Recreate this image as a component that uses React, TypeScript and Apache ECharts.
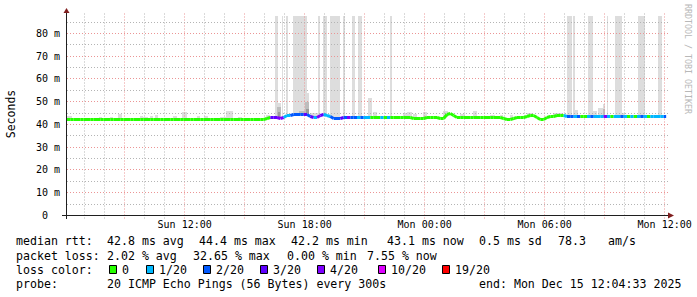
import React, { useEffect, useRef } from 'react';
import * as echarts from 'echarts';

// ---- time axis (minutes since Sun 00:00) ----
const START_MIN = 367; // Sun 06:07 (left edge of the graph)
const AXIS_END_MIN = 2167; // Mon 12:07 (right edge of the graph)
const END_MIN = 2164.5; // Mon 12:04:33 (last data)
const STEP_MIN = 10;
const Y_MAX = 87.91; // ms at the top of the canvas

const xTickValues = [720, 1080, 1440, 1800, 2160];
const xTickLabels = ['Sun 12:00', 'Sun 18:00', 'Mon 00:00', 'Mon 06:00', 'Mon 12:00'];
const yMajorValues = [10, 20, 30, 40, 50, 60, 70, 80];
const yMinorValues = [5, 15, 25, 35, 45, 55, 65, 75, 85];

// ---- median rtt (ms), one value every 10 min from Sun 06:07 ----
const rttMs = [
  42.2, 42.2, 42.2, 42.2, 42.2, 42.2, 42.2, 42.2, 42.2, 42.2,
  42.2, 42.2, 42.2, 42.2, 42.2, 42.2, 42.2, 42.2, 42.2, 42.2,
  42.2, 42.2, 42.2, 42.2, 42.2, 42.2, 42.2, 42.2, 42.2, 42.2,
  42.2, 42.2, 42.2, 42.2, 42.2, 42.2, 42.2, 42.2, 42.2, 42.2,
  42.2, 42.2, 42.2, 42.2, 42.2, 42.2, 42.2, 42.2, 42.2, 42.2,
  42.2, 42.2, 42.2, 42.2, 42.2, 42.2, 42.2, 42.2, 42.2, 42.2,
  42.6, 43.0, 43.2, 43.2, 42.5, 43.0, 43.8, 44.0, 44.2, 44.2,
  44.2, 44.2, 44.4, 43.6, 43.0, 43.0, 43.8, 44.4, 44.0, 43.5,
  42.7, 42.6, 42.6, 43.2, 43.2, 43.2, 43.2, 43.2, 43.2, 43.2,
  43.2, 43.2, 43.1, 43.0, 42.9, 42.9, 42.9, 42.9, 42.9, 42.9,
  42.9, 42.9, 42.9, 42.9, 42.6, 42.6, 42.6, 42.6, 42.9, 42.9,
  42.9, 42.9, 42.6, 42.6, 44.6, 44.8, 43.8, 42.9, 42.9, 42.9,
  42.9, 42.9, 42.9, 42.9, 42.9, 42.9, 42.9, 42.9, 42.9, 42.9,
  42.9, 42.7, 42.2, 42.2, 42.7, 42.9, 42.9, 42.9, 43.5, 43.9,
  43.9, 43.0, 42.0, 42.0, 43.0, 43.7, 43.7, 43.9, 43.9, 43.9,
  43.5, 43.5, 43.5, 43.5, 43.5, 43.5, 43.5, 43.5, 43.5, 43.5,
  43.5, 43.5, 43.5, 43.5, 43.5, 43.5, 43.4, 43.4, 43.4, 43.4,
  43.4, 43.4, 43.4, 43.4, 43.4, 43.4, 43.4, 43.4, 43.4, 43.4,
  43.4,
];

// ---- packet loss (pings lost out of 20) for the same steps ----
const lossOf20 = [
  0, 0, 0, 0, 0, 0, 0, 0, 0, 0,
  0, 0, 0, 0, 0, 0, 0, 0, 0, 0,
  0, 0, 0, 0, 0, 0, 0, 0, 0, 0,
  0, 0, 0, 0, 0, 0, 0, 0, 0, 0,
  0, 0, 0, 0, 0, 0, 0, 0, 0, 0,
  0, 0, 0, 0, 0, 0, 0, 0, 0, 0,
  0, 0, 3, 3, 4, 4, 1, 1, 2, 2,
  2, 2, 3, 2, 3, 1, 4, 3, 1, 1,
  2, 2, 2, 3, 2, 4, 2, 2, 1, 2,
  1, 1, 0, 0, 0, 1, 0, 1, 0, 0,
  0, 0, 0, 0, 0, 0, 0, 0, 0, 0,
  0, 0, 0, 0, 0, 0, 0, 0, 0, 0,
  0, 0, 0, 0, 0, 0, 0, 0, 0, 0,
  0, 0, 0, 0, 0, 0, 0, 0, 0, 0,
  0, 0, 0, 0, 0, 0, 0, 0, 0, 0,
  1, 2, 2, 1, 2, 0, 0, 1, 2, 1,
  1, 1, 4, 1, 0, 1, 1, 2, 1, 0,
  1, 0, 1, 2, 1, 0, 1, 1, 1, 1,
  2,
];

const lossLevels = [0, 1, 2, 3, 4, 10, 19];
const lossLabels = ['0', '1/20', '2/20', '3/20', '4/20', '10/20', '19/20'];
const lossColors = ['#26ff00', '#00b8ff', '#0059ff', '#5e00ff', '#7e00ff', '#dd00ff', '#ff0000'];

// ---- smoke (ping spread) : from / to (minutes), low / high (ms), shade ----
const smokeFrom = [
  991, 1012, 1025, 1045, 1120, 1136, 1156, 1195, 1222, 1240, 1336, 1866, 1885, 1930, 1987, 2011, 2080, 2140,
  367, 463, 495, 520, 585, 595, 616, 630, 685, 712, 757, 778, 825, 844, 879, 964, 997, 1082, 1096,
  1270, 1285, 1375, 1387, 1405, 1435, 1495, 1546, 1585, 1636, 1666, 1696, 1747, 1825, 1885, 1942, 1960, 1975, 2032,
  997, 1063, 1082, 1975,
  1000, 1085,
];
const smokeTo = [
  1000, 1016, 1030, 1086, 1127, 1147, 1186, 1202, 1232, 1252, 1342, 1882, 1891, 1945, 1990, 2032, 2101, 2152,
  382, 472, 505, 532, 595, 610, 625, 640, 697, 727, 766, 789, 844, 865, 892, 976, 1009, 1093, 1120,
  1282, 1297, 1387, 1402, 1417, 1447, 1510, 1561, 1597, 1651, 1675, 1705, 1762, 1855, 1900, 1957, 1975, 1981, 2041,
  1009, 1082, 1093, 1981,
  1006, 1093,
];
const smokeLow = [
  43.2, 43.0, 43.8, 44.2, 43.6, 44.0, 42.7, 43.2, 43.2, 43.2, 42.9, 43.5, 43.5, 43.4, 43.4, 43.4, 43.4, 43.4,
  42.2, 42.2, 42.2, 42.2, 42.2, 42.2, 42.2, 42.2, 42.2, 42.2, 42.2, 42.2, 42.2, 42.2, 42.2, 42.6, 42.8, 44.0, 43.0,
  43.2, 43.0, 42.9, 42.9, 42.6, 42.9, 43.5, 42.9, 42.9, 42.9, 42.9, 42.2, 43.9, 43.9, 43.5, 43.4, 43.4, 43.4, 43.4,
  42.8, 44.2, 44.0, 43.4,
  43.0, 44.0,
];
const smokeHigh = [
  100, 100, 100, 100, 100, 100, 100, 100, 100, 100, 100, 100, 100, 100, 100, 100, 100, 100,
  43.7, 43.3, 43.3, 44.6, 43.7, 43.3, 43.7, 44.2, 43.7, 45.5, 43.7, 43.7, 43.3, 46.0, 43.3, 44.2, 49.3, 53.7, 44.9,
  51.8, 45.6, 45.0, 45.4, 44.5, 45.4, 46.0, 44.5, 45.9, 44.2, 44.2, 44.2, 44.9, 44.9, 46.4, 45.9, 47.1, 49.0, 45.2,
  47.8, 46.0, 50.0, 47.0,
  45.5, 47.0,
];
const smokeShade = [
  0, 0, 0, 0, 0, 0, 0, 0, 0, 0, 0, 0, 0, 0, 0, 0, 0, 0,
  0, 0, 0, 0, 0, 0, 0, 0, 0, 0, 0, 0, 0, 0, 0, 0, 0, 0, 0,
  0, 0, 0, 0, 0, 0, 0, 0, 0, 0, 0, 0, 0, 0, 0, 0, 0, 0, 0,
  1, 1, 1, 1,
  2, 2,
];

// ---- legend texts ----
const rttRow = ['median rtt:', '42.8 ms avg', '44.4 ms max', '42.2 ms min', '43.1 ms now', '0.5 ms sd', '78.3', 'am/s'];
const lossRow = ['packet loss:', '2.02 % avg', '32.65 % max', '0.00 % min', '7.55 % now'];
const colorRowTitle = 'loss color:';
const probeRow = ['probe:', '20 ICMP Echo Pings (56 Bytes) every 300s', 'end: Mon Dec 15 12:04:33 2025'];
const yAxisName = 'Seconds';
const watermark = 'RRDTOOL / TOBI OETIKER';

// ---- layout (positions & styles) ----
const rttRowX = [16, 107, 199, 291, 387, 479, 558, 608];
const lossRowX = [16, 107, 193, 287, 367];
const boxX = [109, 146, 203, 260, 317, 378, 442];
const probeRowX = [16, 107, 479];
const rowY = [241, 255.5, 269.5, 284];

const MONO = '"DejaVu Sans Mono", monospace';
const LEGEND_FONT = `11.6px ${MONO}`;
const AXIS_COLOR = '#1f1f1f';
const ARROW_COLOR = '#801f1f';
const MINOR_GRID = '#b4b4b4';
const MAJOR_GRID = '#eb9595';
const shadeColors = ['#dddddd', '#bdbdbd', '#9a9a9a'];

const snap = (v: number) => Math.round(v - 0.5) + 0.5;

function lossColor(l: number) {
  let idx = 0;
  lossLevels.forEach((lv, k) => {
    if (l >= lv) idx = k;
  });
  return lossColors[idx];
}

function textEl(text: string, x: number, y: number, font = LEGEND_FONT, fill = '#000') {
  return {
    type: 'text',
    z: 100,
    silent: true,
    style: {
      text, x, y, font, fill,
      align: 'left', verticalAlign: 'middle',
      textAlign: 'left', textVerticalAlign: 'middle',
    },
  };
}

function buildOption() {
  // grid lines
  const gridData: number[][] = [];
  for (let t = 420; t <= 2160; t += 60) gridData.push([t, 0, t % 180 === 0 ? 1 : 0]);
  yMinorValues.forEach((v) => gridData.push([START_MIN, v, 2]));
  yMajorValues.forEach((v) => gridData.push([START_MIN, v, 3]));

  // median line segments
  const lineData: number[][] = [];
  for (let i = 1; i < rttMs.length; i++) {
    const t = Math.min(START_MIN + i * STEP_MIN, END_MIN);
    const tp = START_MIN + (i - 1) * STEP_MIN;
    lineData.push([t, rttMs[i], lossOf20[i], tp, rttMs[i - 1]]);
  }

  const smokeData = smokeFrom.map((f, i) => [f, smokeHigh[i], smokeTo[i], smokeLow[i], smokeShade[i]]);

  const graphics: any[] = [];
  graphics.push({ type: 'line', z: 100, silent: true, shape: { x1: 62, y1: 215.5, x2: 669, y2: 215.5 }, style: { stroke: AXIS_COLOR, lineWidth: 1 } });
  graphics.push({ type: 'polygon', z: 100, silent: true, shape: { points: [[668, 212.5], [674, 215.5], [668, 218.5]] }, style: { fill: ARROW_COLOR } });
  graphics.push({ type: 'line', z: 100, silent: true, shape: { x1: 66.5, y1: 219, x2: 66.5, y2: 12 }, style: { stroke: AXIS_COLOR, lineWidth: 1 } });
  graphics.push({ type: 'polygon', z: 100, silent: true, shape: { points: [[63.5, 13], [66.5, 8], [69.5, 13]] }, style: { fill: ARROW_COLOR } });

  graphics.push({
    type: 'text', z: 100, silent: true, x: 10.5, y: 114, rotation: Math.PI / 2,
    style: { text: yAxisName, x: 0, y: 0, font: `11.5px ${MONO}`, fill: '#000', align: 'center', verticalAlign: 'middle', textAlign: 'center', textVerticalAlign: 'middle' },
  });
  graphics.push({
    type: 'text', z: 100, silent: true, x: 687.5, y: 59, rotation: -Math.PI / 2,
    style: { text: watermark, x: 0, y: 0, font: `8.3px ${MONO}`, fill: '#b8b8b8', align: 'center', verticalAlign: 'middle', textAlign: 'center', textVerticalAlign: 'middle' },
  });

  rttRow.forEach((s, i) => graphics.push(textEl(s, rttRowX[i], rowY[0])));
  lossRow.forEach((s, i) => graphics.push(textEl(s, lossRowX[i], rowY[1])));
  graphics.push(textEl(colorRowTitle, 16, rowY[2]));
  lossLabels.forEach((s, i) => {
    graphics.push({
      type: 'rect', z: 100, silent: true,
      shape: { x: boxX[i] + 0.5, y: rowY[2] - 4, width: 7, height: 8 },
      style: { fill: lossColors[i], stroke: '#000', lineWidth: 1 },
    });
    graphics.push(textEl(s, boxX[i] + 13, rowY[2]));
  });
  probeRow.forEach((s, i) => graphics.push(textEl(s, probeRowX[i], rowY[3])));

  return {
    animation: false,
    backgroundColor: '#ffffff',
    grid: { left: 67, top: 15.5, width: 600, height: 200, containLabel: false, outerBoundsMode: 'none' },
    xAxis: {
      type: 'value',
      min: START_MIN,
      max: AXIS_END_MIN,
      axisLine: { show: false },
      axisTick: { show: false },
      splitLine: { show: false },
      axisLabel: {
        customValues: xTickValues,
        formatter: (v: number) => {
          const k = xTickValues.indexOf(v);
          return k >= 0 ? xTickLabels[k] : '';
        },
        fontFamily: MONO,
        fontSize: 10,
        color: '#000',
        margin: 4,
      },
    },
    yAxis: {
      type: 'value',
      min: 0,
      max: Y_MAX,
      interval: 10,
      axisLine: { show: false },
      axisTick: { show: false },
      splitLine: { show: false },
      axisLabel: {
        formatter: (v: number) => (v === 0 ? '0\u00a0\u00a0' : v % 10 === 0 ? `${v} m` : ''),
        fontFamily: MONO,
        fontSize: 10,
        color: '#000',
        margin: 7,
        showMaxLabel: false,
      },
    },
    graphic: { elements: graphics },
    series: [
      {
        type: 'custom',
        name: 'smoke',
        z: 1,
        silent: true,
        data: smokeData,
        renderItem: (params: any, api: any) => {
          const cs = params.coordSys;
          const a = api.coord([api.value(0), api.value(1)]);
          const b = api.coord([api.value(2), api.value(3)]);
          const x1 = Math.round(a[0]);
          const x2 = Math.max(Math.round(b[0]), x1 + 1);
          const y1 = Math.round(Math.max(a[1], cs.y));
          const y2 = Math.round(b[1]);
          return {
            type: 'rect',
            shape: { x: x1, y: y1, width: x2 - x1, height: y2 - y1 },
            style: { fill: shadeColors[api.value(4)] },
          };
        },
      },
      {
        type: 'custom',
        name: 'grid',
        z: 2,
        silent: true,
        data: gridData,
        renderItem: (params: any, api: any) => {
          const cs = params.coordSys;
          const kind = api.value(2);
          if (kind < 2) {
            const x = snap(api.coord([api.value(0), 0])[0]);
            return {
              type: 'line',
              shape: { x1: x, y1: cs.y - 2, x2: x, y2: cs.y + cs.height + 3 },
              style: { stroke: kind === 1 ? MAJOR_GRID : MINOR_GRID, lineWidth: 1, lineDash: [1, 2] },
            };
          }
          const y = snap(api.coord([START_MIN, api.value(1)])[1]);
          return {
            type: 'line',
            shape: { x1: cs.x, y1: y, x2: cs.x + cs.width + 2, y2: y },
            style: { stroke: kind === 3 ? MAJOR_GRID : MINOR_GRID, lineWidth: 1, lineDash: [1, 2] },
          };
        },
      },
      {
        type: 'custom',
        name: 'median rtt',
        z: 3,
        silent: true,
        data: lineData,
        renderItem: (params: any, api: any) => {
          const p = api.coord([api.value(0), api.value(1)]);
          const q = api.coord([api.value(3), api.value(4)]);
          return {
            type: 'line',
            shape: { x1: q[0], y1: snap(q[1]), x2: p[0], y2: snap(p[1]) },
            style: { stroke: lossColor(api.value(2)), lineWidth: 3, lineCap: 'butt' },
          };
        },
      },
    ],
  };
}

export default function App() {
  const ref = useRef<HTMLDivElement>(null);
  useEffect(() => {
    const chart = echarts.init(ref.current!, null, { renderer: 'svg' });
    chart.setOption(buildOption() as any);
    return () => chart.dispose();
  }, []);
  return (
    <div
      ref={ref}
      style={{ position: 'fixed', left: 0, top: 0, width: 697, height: 297, background: '#ffffff' }}
    />
  );
}
